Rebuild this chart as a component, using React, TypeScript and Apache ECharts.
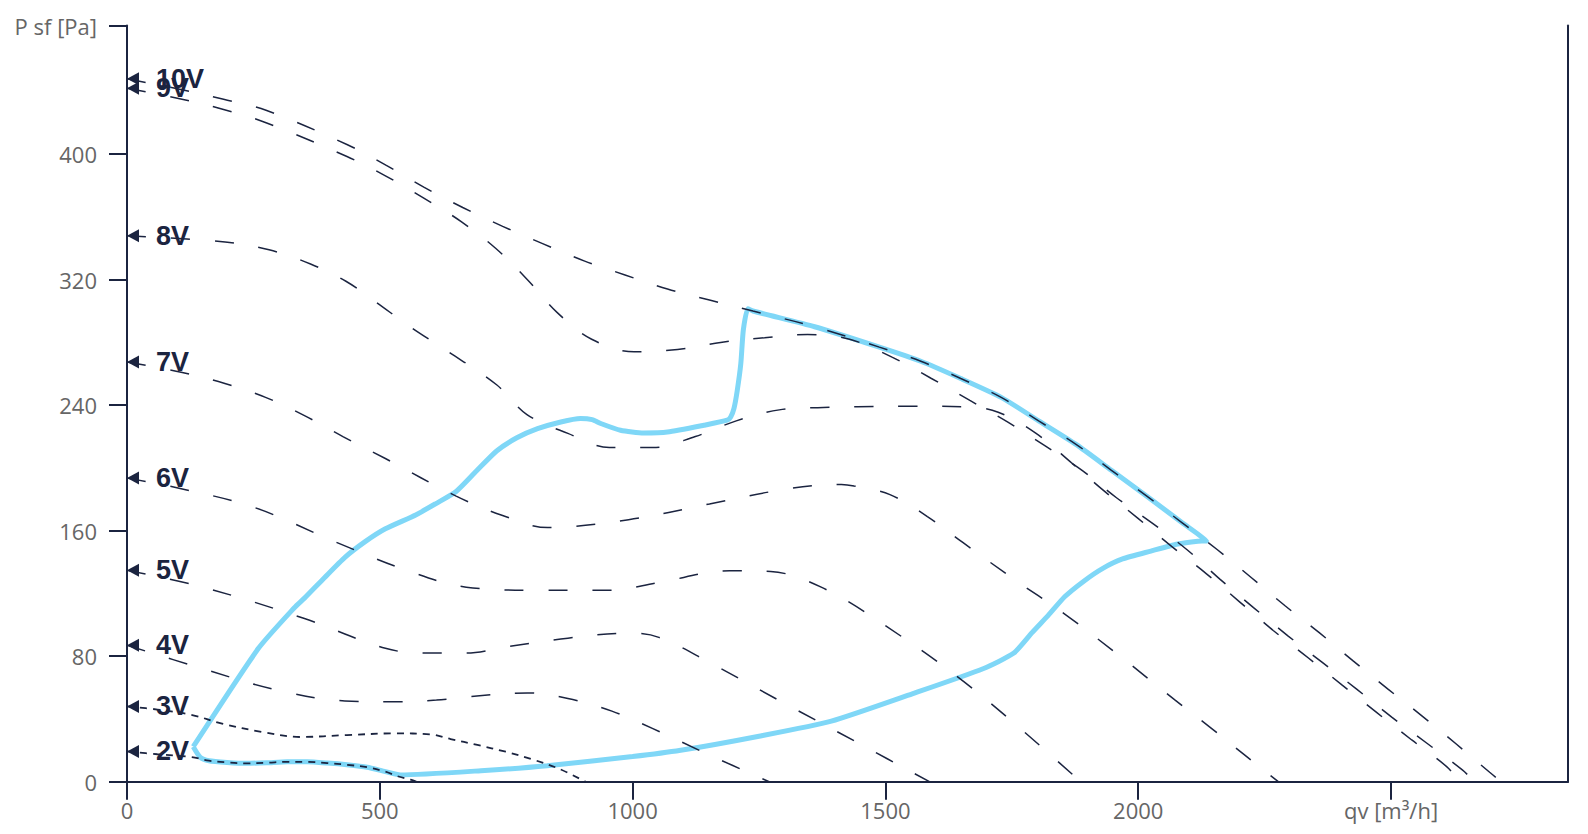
import React, { useEffect, useRef } from 'react';
import * as echarts from 'echarts';

const NAVY = '#1b2440';
const BLUE = '#7fd7f7';
const GRAY = '#666666';

// x: qv [m³/h], y: P sf [Pa]
const v10: [number, number][] = [[0,448],[95,442],[191,435],[275,428],[436,406],[512,393],[587,379],[664,366],[743,354],[822,343],[904,332],[985,323],[1069,314],[1152,307],[1238,300],[1360,290],[1488,277],[1570,268],[1649,257],[1729,245],[1803,230],[1877,215],[1947,198.5],[2017,182],[2087,165],[2156,148],[2224,130],[2291,112],[2358,95],[2425,77],[2494,59],[2561,42],[2629,24],[2695,6],[2718,0]];
const v9: [number, number][] = [[0,442],[95,436],[191,428.5],[275,420],[435,398.5],[512,386],[587,372],[661,357],[729,340],[792,320],[851,299],[919,282],[1003,274],[1089,275.5],[1174,280],[1261,283],[1346,285],[1429,282],[1514,270.5],[1591,257],[1667,243],[1743,229],[1816,214],[1891,198],[1957,181],[2027,165],[2096,148],[2162,129],[2228,111],[2296,93],[2364,76],[2432,59],[2502,41],[2571,24.5],[2641,7.5],[2665,0]];
const v8: [number, number][] = [[0,348],[194,344],[281,339],[363,330],[433,319],[491,306],[560,290],[631,275],[731,253],[791,234],[872,222],[954,213],[1040,213],[1124,220],[1205,230],[1290,237],[1377,238.5],[1445,239],[1550,239.3],[1657,239],[1723,235.5],[1798,222],[1869,203],[1930,186],[1999,168],[2066,150],[2135,132.5],[2201,114.5],[2267,96.4],[2336,79],[2404,61.4],[2472,44],[2541,26.6],[2610,9.6],[2636,0]];
const v7: [number, number][] = [[0,267.5],[107,261],[192,254],[274,245],[353,233],[427,220],[511,206],[651,182],[740,170],[832,162],[992,167],[1152,177],[1313,187],[1413,189.5],[1438,188.5],[1509,183],[1583,169],[1653,152.5],[1750,130],[1854,107],[1960,81],[2073,52],[2141,35],[2209,17.4],[2277,0]];
const v6: [number, number][] = [[0,193.5],[90,188],[250,175],[411,153],[551,135],[671,124],[812,122],[952,122],[1052,127],[1192,134.5],[1273,134],[1373,124],[1493,101],[1674,59],[1886,0]];
const v5: [number, number][] = [[0,134.7],[150,124],[351,104],[511,85],[591,82],[671,82],[751,86],[872,91.5],[992,94.7],[1052,92],[1152,76],[1300,50],[1450,24],[1587,0]];
const v4: [number, number][] = [[0,87],[150,72],[290,59],[431,51.5],[531,51],[612,52],[671,54],[792,56.6],[872,53],[959,45],[1039,34],[1152,17],[1270,0]];
const v3: [number, number][] = [[0,48],[60,46],[129,42.5],[188,37],[267,31.7],[343,28.5],[435,29.7],[528,30.8],[600,30.2],[640,27.2],[693,23.4],[749,19.1],[801,14.3],[854,8.3],[907,0]];
const v2: [number, number][] = [[0,19.3],[60,17.5],[127,15.7],[162,13.4],[198,12.3],[237,11.7],[277,12.1],[317,12.7],[356,12.7],[396,11.9],[435,10.8],[475,9.2],[511,6.4],[534,3.6],[561,1.3],[572,0]];

// operating envelope (closed outline)
const envelope: [number, number][] = [[131,22.3],[145,15.5],[162,13.4],[198,12.3],[237,11.7],[277,12.1],[317,12.7],[356,12.7],[396,11.9],[435,10.8],[475,9.2],[511,6.4],[541,4.3],[700,7],[831,10.2],[1000,16],[1095,20],[1250,29],[1393,38.6],[1553,56],[1693,72],[1754,82],[1790,95],[1822,106],[1855,118],[1893,128],[1930,136],[1969,142],[2025,147],[2078,151.5],[2118,153.3],[2135,153.5],[2087,165],[2017,182],[1947,198.5],[1877,215],[1803,230],[1729,245],[1649,257],[1570,268],[1488,277],[1360,290],[1238,300],[1228,301.5],[1219,288],[1214,266.5],[1207,249.5],[1200.5,238],[1194,232.5],[1187,230.4],[1141,227.2],[1069,222.9],[1022,222.3],[976,224],[937,228.3],[920,230.8],[897,231.5],[858,229.3],[812,225],[771,219.2],[731,210.8],[691,198],[651,185],[611,177.3],[571,170],[511,161.2],[471,153],[431,143],[391,130.2],[351,117],[331,110.9],[260,85],[131,22.3]];

const voltageNames = ['10V', '9V', '8V', '7V', '6V', '5V', '4V', '3V', '2V'];
const startPressures = [448, 442, 348, 267.5, 193.5, 134.7, 87, 48, 19.3];
const curves = [v10, v9, v8, v7, v6, v5, v4, v3, v2];
const shortDashNames = ['3V', '2V'];

const xTicks = [0, 500, 1000, 1500, 2000, 2500];
const yTicks = [0, 80, 160, 240, 320, 400, 482];
const X_MAX = 2850;
const Y_MAX = 482;
const xTitle = 'qv [m³/h]';
const yTitle = 'P sf [Pa]';

export default function App() {
  const ref = useRef<HTMLDivElement>(null);
  useEffect(() => {
    if (!ref.current) return;
    const chart = echarts.init(ref.current, null, { renderer: 'svg' });
    const labelFont = "'Open Sans', 'Noto Sans', sans-serif";
    const option: any = {
      animation: false,
      backgroundColor: '#ffffff',
      grid: { left: 127, right: 20, top: 25.5, bottom: 52.3, containLabel: false },
      xAxis: {
        type: 'value', min: 0, max: X_MAX, interval: 500,
        axisLine: { show: true, lineStyle: { color: NAVY, width: 2 } },
        axisTick: { show: true, length: 18, lineStyle: { color: NAVY, width: 2 }, customValues: xTicks },
        axisLabel: {
          customValues: xTicks, color: GRAY, fontSize: 22, margin: 17, fontFamily: labelFont,
          formatter: (v: number) => (v === 2500 ? xTitle : String(v)),
        },
        splitLine: { show: false },
      },
      yAxis: [
        {
          type: 'value', min: 0, max: Y_MAX, interval: 80, position: 'left',
          axisLine: { show: true, lineStyle: { color: NAVY, width: 2 } },
          axisTick: { show: true, length: 18, lineStyle: { color: NAVY, width: 2 }, customValues: yTicks },
          axisLabel: {
            customValues: yTicks, color: GRAY, fontSize: 22, margin: 30, fontFamily: labelFont,
            formatter: (v: number) => (v >= 480 ? yTitle : String(v)),
          },
          splitLine: { show: false },
        },
        {
          type: 'value', min: 0, max: Y_MAX, position: 'right',
          axisLine: { show: true, lineStyle: { color: NAVY, width: 2 } },
          axisTick: { show: false }, axisLabel: { show: false }, splitLine: { show: false },
        },
      ],
      series: [
        {
          type: 'line', name: 'envelope', data: envelope, smooth: 0.2, symbol: 'none',
          lineStyle: { color: BLUE, width: 5 }, z: 2,
        },
        ...curves.map((d, i) => {
          const short = shortDashNames.includes(voltageNames[i]);
          return {
            type: 'line', name: voltageNames[i], data: d, smooth: 0.35, symbol: 'none',
            lineStyle: { color: NAVY, width: short ? 1.8 : 1.5, type: short ? [7, 6] : [19, 25] },
            z: 3,
          };
        }),
        {
          type: 'scatter', name: 'markers', clip: false,
          data: voltageNames.map((n, i) => ({ name: n, value: [0, startPressures[i]] })),
          symbol: 'path://M0,6L12,0L12,12Z', symbolSize: [12, 13], symbolOffset: [6, 0],
          itemStyle: { color: NAVY, opacity: 1 },
          label: {
            show: true, position: 'right', distance: 17, formatter: '{b}', color: NAVY, opacity: 1,
            fontSize: 27, fontWeight: 'bold', fontFamily: "'Liberation Sans', Arial, sans-serif",
          },
          emphasis: { disabled: true },
          z: 5,
        },
      ],
    };
    chart.setOption(option);
    return () => chart.dispose();
  }, []);
  return <div ref={ref} style={{ position: 'absolute', left: 0, top: 0, width: 1588, height: 834 }} />;
}
